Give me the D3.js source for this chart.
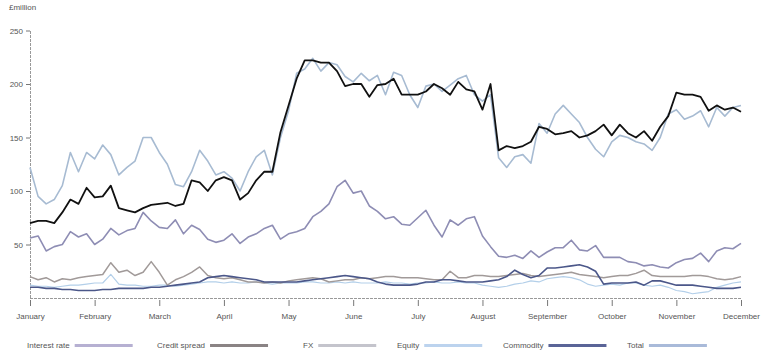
<!DOCTYPE html>
<html>
<head>
<script src="https://d3js.org/d3.v7.min.js"></script>
<style>
    body { margin: 0; background: #fff; font-family: "Liberation Sans", Arial, sans-serif; }
    .tick text { fill: #555; font-size: 8px; }
</style>
</head>
<body>
<svg id="chart" width="764" height="353"></svg>
<script>
    // month labels for the x axis, 8 readings per month from January to December
    const months = ["January", "February", "March", "April", "May", "June", "July",
        "August", "September", "October", "November", "December"];
    const yTicks = [50, 100, 150, 200, 250];

    const total = [70, 72, 72, 70, 80, 92, 88, 103, 94, 95, 105, 84, 82, 80, 84, 87, 88, 89, 86, 88,
        110, 108, 100, 110, 113, 110, 92, 98, 110, 118, 118, 155, 180, 205, 222, 222, 220, 220, 212, 198,
        200, 200, 188, 199, 200, 205, 190, 190, 190, 193, 200, 196, 190, 202, 195, 193, 176, 200, 138, 142,
        140, 142, 146, 160, 158, 153, 154, 156, 150, 152, 156, 162, 152, 162, 154, 150, 156, 147, 160, 170,
        192, 190, 190, 188, 175, 180, 176, 178, 174];
    const fxLine = [122, 95, 88, 92, 105, 136, 118, 136, 130, 143, 134, 115, 122, 128, 150, 150, 136, 125, 106, 104,
        118, 138, 128, 115, 118, 112, 100, 118, 132, 138, 115, 150, 175, 210, 214, 224, 212, 220, 218, 207,
        202, 210, 203, 208, 190, 211, 208, 190, 178, 198, 200, 193, 199, 205, 208, 190, 184, 190, 131, 122,
        132, 134, 126, 163, 154, 172, 180, 172, 164, 150, 139, 132, 146, 152, 150, 146, 144, 138, 150, 172,
        176, 167, 170, 175, 160, 178, 170, 178, 180];
    const interestRate = [56, 58, 44, 48, 50, 62, 57, 60, 50, 55, 65, 59, 63, 65, 80, 72, 66, 65, 73, 60,
        68, 64, 55, 52, 54, 60, 51, 57, 60, 65, 68, 55, 60, 62, 65, 76, 81, 88, 104, 110,
        98, 100, 86, 81, 74, 76, 69, 68, 75, 82, 68, 57, 73, 68, 74, 76, 58, 48, 39, 38,
        40, 37, 44, 38, 43, 47, 47, 54, 45, 44, 49, 38, 38, 38, 34, 33, 30, 31, 29, 28,
        33, 36, 37, 42, 34, 44, 47, 46, 51];
    const creditSpread = [20, 17, 19, 15, 18, 17, 19, 20, 21, 22, 33, 24, 26, 21, 24, 34, 24, 12, 17, 20,
        24, 29, 21, 19, 18, 19, 17, 15, 15, 14, 15, 14, 16, 17, 18, 19, 18, 15, 16, 17,
        17, 19, 18, 19, 20, 20, 19, 19, 19, 18, 17, 17, 25, 19, 19, 21, 21, 20, 20, 21,
        22, 23, 21, 20, 21, 22, 23, 24, 22, 21, 20, 19, 20, 21, 21, 23, 26, 21, 20, 20,
        20, 20, 21, 21, 20, 18, 17, 18, 20];
    const commodity = [10, 10, 9, 9, 8, 8, 7, 7, 7, 8, 8, 9, 9, 9, 9, 10, 10, 11, 12, 13,
        14, 15, 19, 20, 21, 20, 19, 18, 17, 15, 15, 15, 15, 15, 16, 17, 18, 19, 20, 21,
        20, 19, 18, 15, 13, 12, 12, 12, 13, 15, 15, 17, 17, 16, 15, 15, 15, 16, 17, 20,
        26, 22, 19, 21, 28, 28, 29, 30, 31, 29, 25, 13, 14, 14, 14, 15, 12, 16, 16, 14,
        12, 12, 12, 11, 10, 9, 9, 9, 10];
    const equity = [12, 11, 11, 10, 11, 12, 12, 13, 14, 14, 22, 13, 12, 12, 11, 11, 12, 12, 11, 12,
        13, 14, 15, 15, 14, 15, 14, 14, 15, 14, 13, 14, 14, 14, 15, 15, 14, 14, 15, 14,
        15, 14, 14, 14, 15, 14, 14, 13, 14, 14, 15, 14, 14, 15, 14, 14, 12, 11, 10, 11,
        13, 14, 16, 15, 18, 19, 20, 19, 17, 13, 11, 12, 13, 12, 14, 14, 12, 11, 12, 10,
        7, 6, 4, 5, 6, 10, 12, 14, 15];

    const legendNames = ["Interest rate", "Credit spread", "FX", "Equity", "Commodity", "Total"];
    const legendColors = ["#b6b0d2", "#8a8384", "#c4c4cc", "#bcd3ee", "#5a6497", "#a9bad9"];

    const svg = d3.select("#chart");
    const margin = { top: 30.5, right: 23, bottom: 55, left: 30 };
    const width = 764, height = 353;

    const x = d3.scaleLinear().domain([0, 11]).range([margin.left, width - margin.right]);
    const y = d3.scaleLinear().domain([0, 250]).range([height - margin.bottom, margin.top]);

    // y axis
    const yAxis = svg.append("g")
        .attr("transform", `translate(${margin.left},0)`)
        .call(d3.axisLeft(y).tickValues(yTicks).tickSize(4).tickPadding(3));
    yAxis.select(".domain").attr("stroke", "#999").attr("stroke-dasharray", "3,1")
        .attr("d", `M0.5,${y(0)}V${margin.top}`);
    yAxis.selectAll(".tick line").attr("stroke", "#777");

    // x axis
    const xAxis = svg.append("g")
        .attr("transform", `translate(0,${y(0)})`)
        .call(d3.axisBottom(x).tickValues(d3.range(12)).tickFormat(i => months[i])
            .tickSize(8).tickPadding(7));
    xAxis.select(".domain").attr("stroke", "#999").attr("stroke-dasharray", "3,1")
        .attr("d", `M${margin.left},0.5H${x(11)}`);
    xAxis.selectAll(".tick line").attr("stroke", "#777").attr("y1", 2);

    svg.append("text")
        .attr("x", 9).attr("y", 10)
        .attr("font-size", 8).attr("fill", "#555")
        .text("£million");

    const series = [
        { values: equity, color: "#b3cfe9", w: 1.2 },
        { values: creditSpread, color: "#a19a99", w: 1.5 },
        { values: commodity, color: "#4b5789", w: 1.6 },
        { values: interestRate, color: "#8e8db4", w: 1.6 },
        { values: fxLine, color: "#a7bbd2", w: 1.6 },
        { values: total, color: "#111", w: 1.8 }
    ];

    const line = d3.line()
        .x((d, i) => x(i / 8))
        .y(d => y(d));

    svg.append("g").selectAll("path")
        .data(series)
        .join("path")
        .attr("fill", "none")
        .attr("stroke", d => d.color)
        .attr("stroke-width", d => d.w)
        .attr("stroke-linejoin", "round")
        .attr("d", d => line(d.values));

    // legend row
    const legendX = [27, 157, 303, 397, 503, 627];
    const legend = svg.append("g").attr("font-size", 8).attr("fill", "#555");
    legendNames.forEach((name, i) => {
        const t = legend.append("text")
            .attr("x", legendX[i]).attr("y", 348)
            .text(name);
        const tw = t.node().getComputedTextLength();
        legend.append("line")
            .attr("x1", legendX[i] + tw + 5).attr("x2", legendX[i] + tw + 63)
            .attr("y1", 345.5).attr("y2", 345.5)
            .attr("stroke", legendColors[i])
            .attr("stroke-width", 3);
    });
</script>
</body>
</html>
